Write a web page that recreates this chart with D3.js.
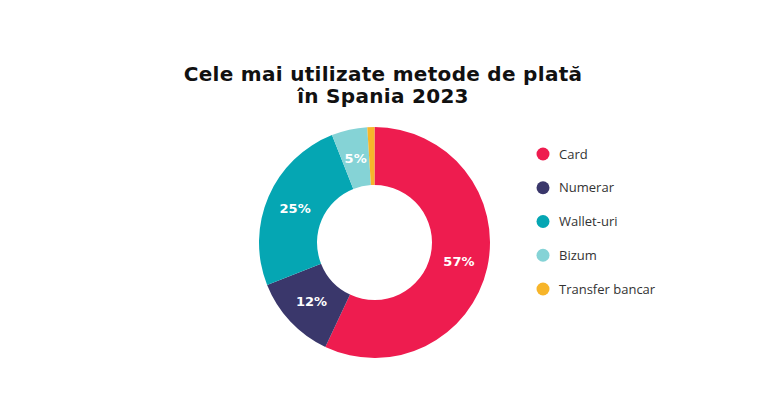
<!DOCTYPE html>
<html>
<head>
<meta charset="utf-8">
<script src="https://cdn.jsdelivr.net/npm/d3@7"></script>
<style>
  body { margin: 0; background: #fff; }
  svg { display: block; }
</style>
</head>
<body>
<div id="chart"></div>
<script>
const categories = ['Card', 'Numerar', 'Wallet-uri', 'Bizum', 'Transfer bancar'];
const values = [57, 12, 25, 5, 1];
const colors = ['#ee1c4f', '#3a376b', '#05a6b3', '#85d3d6', '#f7b52a'];
const titleLines = ['Cele mai utilizate metode de plată', 'în Spania 2023'];

const width = 768, height = 407;
const cx = 374.5, cy = 242.5;
const outerR = 115.5, innerR = 57.5;

const svg = d3.select('#chart').append('svg')
  .attr('width', width)
  .attr('height', height);

// title
const title = svg.append('text')
  .attr('text-anchor', 'middle')
  .attr('font-family', 'DejaVu Sans, sans-serif')
  .attr('font-weight', 'bold')
  .attr('font-size', 20)
  .attr('letter-spacing', 0.3)
  .attr('fill', '#111');
title.selectAll('tspan')
  .data(titleLines)
  .enter().append('tspan')
  .attr('x', 383)
  .attr('y', (d, i) => 81 + i * 22)
  .text(d => d);

const data = categories.map((c, i) => ({name: c, value: values[i]}));
const color = d3.scaleOrdinal().domain(categories).range(colors);

const pie = d3.pie().sort(null).value(d => d.value);
const arc = d3.arc().innerRadius(innerR).outerRadius(outerR);

const g = svg.append('g')
  .attr('transform', `translate(${cx},${cy})`);

const arcs = pie(data);
g.selectAll('path.slice')
  .data(arcs)
  .enter().append('path')
  .attr('class', 'slice')
  .attr('d', arc)
  .attr('fill', d => color(d.data.name));

g.selectAll('text.pct')
  .data(arcs.filter(d => d.data.value >= 5))
  .enter().append('text')
  .attr('class', 'pct')
  .attr('transform', d => `translate(${arc.centroid(d)})`)
  .attr('text-anchor', 'middle')
  .attr('dy', '0.35em')
  .attr('font-family', 'DejaVu Sans, sans-serif')
  .attr('font-weight', 'bold')
  .attr('font-size', 13)
  .attr('fill', '#fff')
  .text(d => d.data.value + '%');

// legend
const legendY = d3.scalePoint().domain(categories).range([154, 289]);
const legend = svg.append('g');
const items = legend.selectAll('g')
  .data(categories)
  .enter().append('g')
  .attr('transform', d => `translate(543,${legendY(d)})`);
items.append('circle')
  .attr('r', 6.5)
  .attr('fill', d => color(d));
items.append('text')
  .attr('x', 16)
  .attr('dy', '0.35em')
  .attr('font-family', 'Open Sans, sans-serif')
  .attr('font-size', 13)
  .attr('fill', '#333')
  .text(d => d);
</script>
</body>
</html>
